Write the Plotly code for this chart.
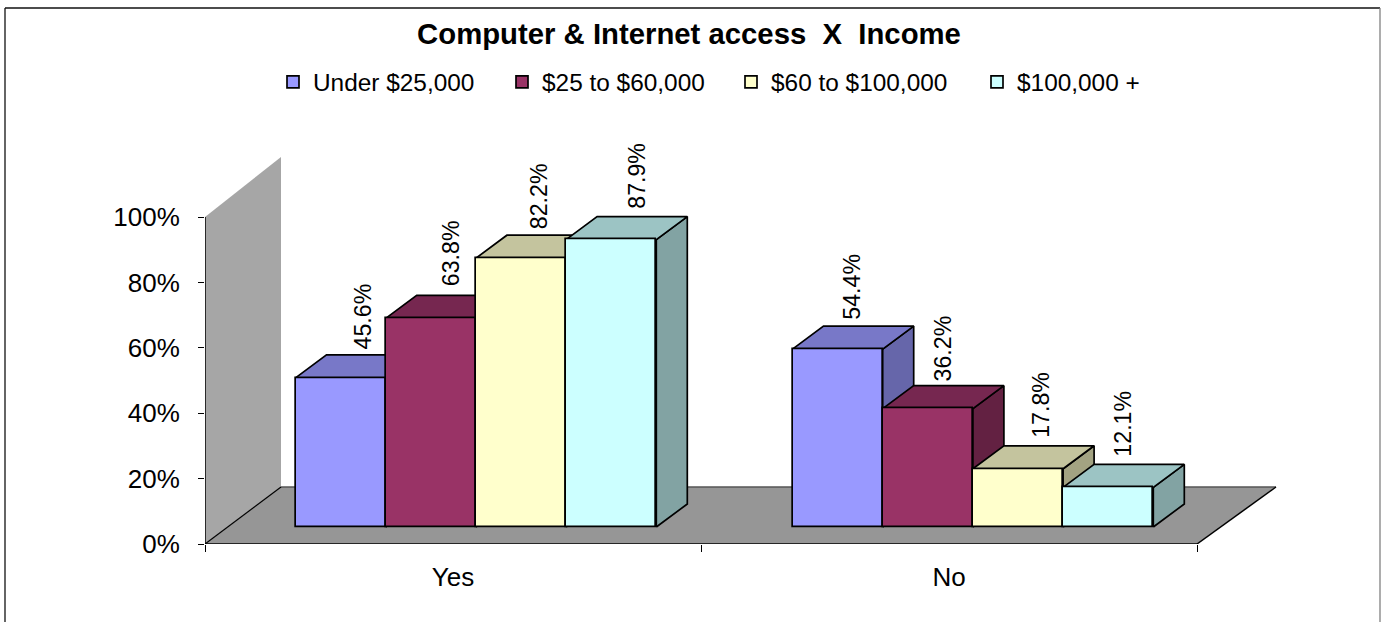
import plotly.graph_objects as go

TITLE = "Computer &amp; Internet access  X  Income"
categories = ["Yes", "No"]
series_names = ["Under $25,000", "$25 to $60,000", "$60 to $100,000", "$100,000 +"]
under_25 = [45.6, 54.4]
from_25_to_60 = [63.8, 36.2]
from_60_to_100 = [82.2, 17.8]
over_100 = [87.9, 12.1]
series_values = [under_25, from_25_to_60, from_60_to_100, over_100]
y_ticks = [0, 20, 40, 60, 80, 100]

front_colors = ["#9999ff", "#993366", "#ffffcc", "#ccffff"]
top_colors = ["#7878c8", "#762750", "#c4c49e", "#9cc4c4"]
side_colors = ["#6666aa", "#632142", "#a3a382", "#82a3a3"]

W, H = 1384, 622
X0_PX, X2_PX, Y0_PX, Y100_PX = 205, 1197, 544, 217
ux = 2 / (X2_PX - X0_PX)      # axis units per pixel
uy = 100 / (Y0_PX - Y100_PX)
X_MAX, Y_MAX = 2.25, 125      # axes run past the frame so the depth faces stay inside the plot area

BAR_BASE = 17 * uy
BAR_W = 90.2 * ux
GROUP_STARTS = [90.5 * ux, 587.5 * ux]
DEPTH_X, DEPTH_Y = 31 * ux, 23 * uy
FLOOR_X, FLOOR_Y = 76 * ux, 57 * uy
FLOOR_RIGHT = 2 + 79 * ux
WALL_TOP = 100 + 60 * uy
# data-label placement, pixels from the top centre of each front face: [group][series]
LABEL_DX_PX = [[22, 21, 18, 25], [15, 15, 23, 15]]
LABEL_DY_PX = [[26, 30, 27, 29], [27, 25, 29, 29]]
EDGE = 1.7
FONT = "Liberation Sans, Arial, sans-serif"

fig = go.Figure()


def poly(xs, ys, fill=None, line=None, width=EDGE):
    fig.add_trace(go.Scatter(
        x=xs, y=ys, mode="lines", showlegend=False, hoverinfo="skip", cliponaxis=False,
        fill="toself" if fill else "none", fillcolor=fill,
        line=dict(color=line or "rgba(0,0,0,0)", width=width if line else 0),
    ))


# wall and floor
poly([0, FLOOR_X, FLOOR_X, 0, 0], [0, FLOOR_Y, WALL_TOP, 100, 0], fill="#a6a6a6")
poly([0, 2, FLOOR_RIGHT, FLOOR_X, 0], [0, 0, FLOOR_Y, FLOOR_Y, 0], fill="#969696")
poly([FLOOR_X, FLOOR_RIGHT], [FLOOR_Y, FLOOR_Y], line="#555555", width=1.5)
poly([0, FLOOR_X], [0, FLOOR_Y], line="#000000", width=1.2)
poly([2, FLOOR_RIGHT], [0, FLOOR_Y], line="#000000", width=1.5)
# axis lines stop at the frame
poly([0, 0], [0, 100], line="#000000", width=1.5)
poly([0, 2], [0, 0], line="#000000", width=1.5)

# side and top faces, painted left to right
for g in range(len(categories)):
    for s, vals in enumerate(series_values):
        left = GROUP_STARTS[g] + s * BAR_W
        right = left + BAR_W
        top = BAR_BASE + vals[g]
        poly([right, right + DEPTH_X, right + DEPTH_X, right, right],
             [BAR_BASE, BAR_BASE + DEPTH_Y, top + DEPTH_Y, top, BAR_BASE],
             fill=side_colors[s], line="#000000")
        poly([left, left + DEPTH_X, right + DEPTH_X, right, left],
             [top, top + DEPTH_Y, top + DEPTH_Y, top, top],
             fill=top_colors[s], line="#000000")

# front faces sit on an overlaid subplot so they paint above the depth faces
for s, vals in enumerate(series_values):
    legend_id = "legend" if s == 0 else f"legend{s + 1}"
    fig.add_trace(go.Bar(
        name=series_names[s], x=[GROUP_STARTS[g] + (s + 0.5) * BAR_W for g in range(len(categories))],
        y=vals, base=BAR_BASE, width=BAR_W, xaxis="x2", yaxis="y2", legend=legend_id,
        marker=dict(color=front_colors[s], line=dict(color="#000000", width=EDGE)),
        cliponaxis=False, hoverinfo="name+y",
    ))

annotations = []
for g in range(len(categories)):
    for s, vals in enumerate(series_values):
        annotations.append(dict(
            xref="x2", yref="y2", x=GROUP_STARTS[g] + (s + 0.5) * BAR_W,
            xshift=LABEL_DX_PX[g][s], y=BAR_BASE + vals[g], yshift=LABEL_DY_PX[g][s],
            text=f"{vals[g]:.1f}%", textangle=-90,
            showarrow=False, xanchor="center", yanchor="bottom",
            font=dict(size=23.2, color="#000000", family=FONT),
        ))

legend_text_px = [313, 542, 771, 1017]
legends = {}
for s, px in enumerate(legend_text_px):
    key = "legend" if s == 0 else f"legend{s + 1}"
    legends[key] = dict(
        x=(px - 40) / W, y=1 - 82 / H, xanchor="left", yanchor="middle",
        orientation="h", bgcolor="rgba(0,0,0,0)", font=dict(size=24.4, color="#000000", family=FONT),
    )

axis_domain_x = [X0_PX / W, (X0_PX + X_MAX / ux) / W]
axis_domain_y = [(H - Y0_PX) / H, (H - Y0_PX + Y_MAX / uy) / H]


def frame_line(x0, y0, x1, y1, color):
    return dict(type="line", xref="paper", yref="paper", x0=x0 / W, x1=x1 / W, y0=1 - y0 / H, y1=1 - y1 / H,
                line=dict(color=color, width=1.3), layer="below")


fig.update_layout(
    width=W, height=H, margin=dict(l=0, r=0, t=0, b=0, autoexpand=False), autosize=False,
    paper_bgcolor="#ffffff", plot_bgcolor="rgba(0,0,0,0)", barmode="overlay", bargap=0,
    font=dict(family=FONT, color="#000000"),
    title=dict(text=TITLE, x=689 / W, y=1 - 34 / H, xref="paper", yref="paper",
               xanchor="center", yanchor="middle", font=dict(size=29.3, color="#000000", family=FONT, weight="bold")),
    xaxis=dict(domain=axis_domain_x, range=[0, X_MAX], tickvals=[0.5, 1.5], ticktext=categories, ticks="",
               showgrid=False, zeroline=False, showline=False,
               tickfont=dict(size=26, color="#000000"), ticklabelstandoff=15,
               minor=dict(tickvals=[0, 1, 2], ticks="outside", ticklen=7, tickwidth=1, tickcolor="#000000", showgrid=False)),
    yaxis=dict(domain=axis_domain_y, range=[0, Y_MAX], tickvals=y_ticks, ticktext=[f"{t}%" for t in y_ticks],
               ticks="outside", ticklen=6, tickwidth=1, tickcolor="#000000", showgrid=False, zeroline=False,
               showline=False, tickfont=dict(size=26, color="#000000"), ticklabelstandoff=13),
    xaxis2=dict(domain=axis_domain_x, range=[0, X_MAX], overlaying="x", anchor="y2", visible=False),
    yaxis2=dict(domain=axis_domain_y, range=[0, Y_MAX], overlaying="y", anchor="x2", visible=False),
    annotations=annotations,
    shapes=[frame_line(5, 8, 1380, 8, "#111111"), frame_line(5, 8, 5, H, "#111111"),
            frame_line(1380, 8, 1380, H, "#808080")],
    **legends,
)

fig.write_html("out.html", config={"displayModeBar": False}, post_script="document.body.style.margin='0';")
